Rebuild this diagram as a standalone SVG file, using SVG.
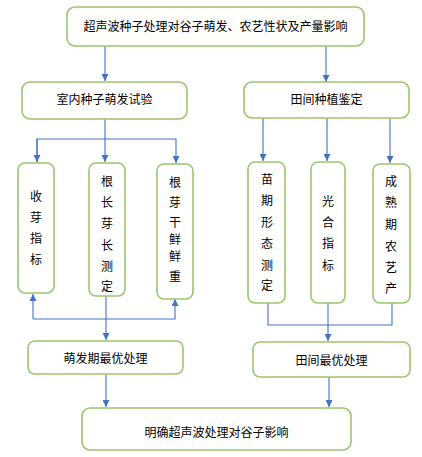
<svg xmlns="http://www.w3.org/2000/svg" width="422" height="457" viewBox="0 0 422 457">
<defs>
<style>
.box{fill:#fff;stroke:#9BC56E;stroke-width:1.6}
.t{font-family:"Noto Sans CJK SC","Noto Sans",sans-serif;font-size:12px;fill:#000;text-anchor:middle}
.c{fill:none;stroke:#4472C4;stroke-width:1.1}
</style>
<marker id="ah" viewBox="0 0 8 8" refX="8" refY="4" markerWidth="7" markerHeight="7" markerUnits="userSpaceOnUse" orient="auto">
<path d="M0,0 L8,4 L0,8 Z" fill="#4472C4"/>
</marker>
</defs>
<rect width="422" height="457" fill="#fff"/>
<g id="connectors">
<path class="c" d="M105,46 V81" marker-end="url(#ah)"/>
<path class="c" d="M326,46 V82" marker-end="url(#ah)"/>
<path class="c" d="M105,119 V162" marker-end="url(#ah)"/>
<path class="c" d="M37,162 V139 H176 V163" marker-end="url(#ah)"/>
<path class="c" d="M37,139 V162" marker-end="url(#ah)"/>
<path class="c" d="M263,118 V161" marker-end="url(#ah)"/>
<path class="c" d="M327,118 V161" marker-end="url(#ah)"/>
<path class="c" d="M390,118 V163" marker-end="url(#ah)"/>
<path class="c" d="M33,319 H175 V299" marker-end="url(#ah)"/>
<path class="c" d="M33,319 V294" marker-end="url(#ah)"/>
<path class="c" d="M106,296 V340" marker-end="url(#ah)"/>
<path class="c" d="M268,303 V325 H392 V303"/>
<path class="c" d="M328,303 V341" marker-end="url(#ah)"/>
<path class="c" d="M106,374 V407" marker-end="url(#ah)"/>
<path class="c" d="M329,377 V407" marker-end="url(#ah)"/>
</g>
<g id="n-top"><rect class="box" x="67" y="7" width="297" height="39" rx="8"/><text class="t" x="215.5" y="31">超声波种子处理对谷子萌发、农艺性状及产量影响</text></g>
<g id="n-indoor"><rect class="box" x="22" y="82" width="165" height="37" rx="8"/><text class="t" x="104.5" y="104">室内种子萌发试验</text></g>
<g id="n-field"><rect class="box" x="244" y="82" width="165" height="36" rx="8"/><text class="t" x="326.5" y="104">田间种植鉴定</text></g>
<g id="n-a1"><rect class="box" x="18" y="163" width="36" height="130" rx="7"/>
<text class="t" x="36"><tspan x="36" y="201">收</tspan><tspan x="36" y="222">芽</tspan><tspan x="36" y="243">指</tspan><tspan x="36" y="264">标</tspan></text></g>
<g id="n-a2"><rect class="box" x="89" y="163" width="36" height="133" rx="7"/>
<text class="t" x="107"><tspan x="107" y="186">根</tspan><tspan x="107" y="207">长</tspan><tspan x="107" y="228">芽</tspan><tspan x="107" y="250">长</tspan><tspan x="107" y="271">测</tspan><tspan x="107" y="291">定</tspan></text></g>
<g id="n-a3"><rect class="box" x="157" y="164" width="36" height="135" rx="7"/>
<text class="t" x="175"><tspan x="175" y="187">根</tspan><tspan x="175" y="207">芽</tspan><tspan x="175" y="227">干</tspan><tspan x="175" y="244">鲜</tspan><tspan x="175" y="261">鲜</tspan><tspan x="175" y="281">重</tspan></text></g>
<g id="n-b1"><rect class="box" x="248" y="162" width="37" height="141" rx="7"/>
<text class="t" x="267"><tspan x="267" y="184">苗</tspan><tspan x="267" y="205">期</tspan><tspan x="267" y="227">形</tspan><tspan x="267" y="248">态</tspan><tspan x="267" y="270">测</tspan><tspan x="267" y="290">定</tspan></text></g>
<g id="n-b2"><rect class="box" x="311" y="162" width="34" height="141" rx="7"/>
<text class="t" x="328"><tspan x="328" y="206">光</tspan><tspan x="328" y="227">合</tspan><tspan x="328" y="248">指</tspan><tspan x="328" y="270">标</tspan></text></g>
<g id="n-b3"><rect class="box" x="373" y="164" width="37" height="139" rx="7"/>
<text class="t" x="391"><tspan x="391" y="186">成</tspan><tspan x="391" y="207">熟</tspan><tspan x="391" y="229">期</tspan><tspan x="391" y="251">农</tspan><tspan x="391" y="272">艺</tspan><tspan x="391" y="293">产</tspan></text></g>
<g id="n-opt1"><rect class="box" x="28" y="341" width="155" height="33" rx="7"/><text class="t" x="105.5" y="363">萌发期最优处理</text></g>
<g id="n-opt2"><rect class="box" x="253" y="342" width="157" height="35" rx="7"/><text class="t" x="331.5" y="365">田间最优处理</text></g>
<g id="n-final"><rect class="box" x="82" y="408" width="269" height="42" rx="8"/><text class="t" x="216.5" y="437">明确超声波处理对谷子影响</text></g>
</svg>
